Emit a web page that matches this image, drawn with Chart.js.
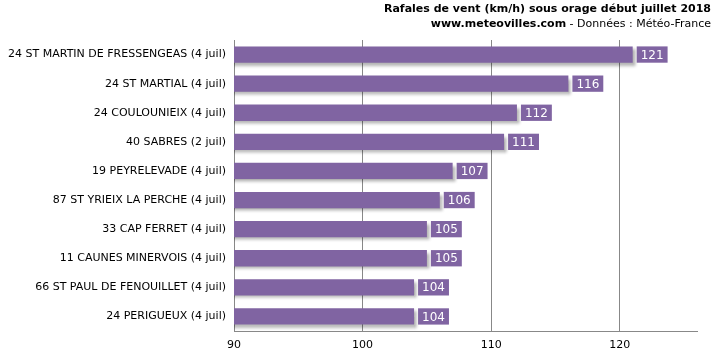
<!DOCTYPE html>
<html lang="fr">
<head>
  <meta charset="UTF-8" />
  <title>Rafales de vent</title>
  <script src="https://cdn.jsdelivr.net/npm/chart.js"></script>
  <style>
    body { margin: 0; padding: 0; background: #fff; }
    #wrap { position: relative; width: 715px; height: 354px; }
  </style>
</head>
<body>
  <div id="wrap"><canvas id="gusts" width="715" height="354"></canvas></div>

  <script>
    const stations = [
      '24 ST MARTIN DE FRESSENGEAS (4 juil)',
      '24 ST MARTIAL (4 juil)',
      '24 COULOUNIEIX (4 juil)',
      '40 SABRES (2 juil)',
      '19 PEYRELEVADE (4 juil)',
      '87 ST YRIEIX LA PERCHE (4 juil)',
      '33 CAP FERRET (4 juil)',
      '11 CAUNES MINERVOIS (4 juil)',
      '66 ST PAUL DE FENOUILLET (4 juil)',
      '24 PERIGUEUX (4 juil)'
    ];
    const gusts = [121, 116, 112, 111, 107, 106, 105, 105, 104, 104];
    const xTicks = [90, 100, 110, 120];

    const FONT = 'Tahoma, "DejaVu Sans", sans-serif';
    const PURPLE = '#8064A2';

    // ombre portée sous les barres
    const shadowPlugin = {
      id: 'barShadow',
      beforeDatasetsDraw(chart) {
        const ctx = chart.ctx;
        ctx.save();
        ctx.shadowColor = 'rgba(0,0,0,0.3)';
        ctx.shadowBlur = 3;
        ctx.shadowOffsetX = 3;
        ctx.shadowOffsetY = 3;
      },
      afterDatasetsDraw(chart) {
        chart.ctx.restore();
      }
    };

    // étiquettes de valeur au bout des barres
    const valueLabels = {
      id: 'valueLabels',
      afterDatasetsDraw(chart) {
        const ctx = chart.ctx;
        const meta = chart.getDatasetMeta(0);
        ctx.save();
        ctx.font = '12px ' + FONT;
        ctx.textBaseline = 'middle';
        ctx.textAlign = 'center';
        meta.data.forEach((bar, i) => {
          const txt = String(gusts[i]);
          const w = ctx.measureText(txt).width + 8;
          const h = bar.height;
          const x0 = bar.x + 4;
          ctx.fillStyle = PURPLE;
          ctx.fillRect(x0, bar.y - h / 2, w, h);
          ctx.fillStyle = '#fff';
          ctx.fillText(txt, x0 + w / 2, bar.y + 1);
        });
        ctx.restore();
      }
    };

    // titre en haut à droite
    const titlePlugin = {
      id: 'titleText',
      afterDraw(chart) {
        const ctx = chart.ctx;
        const right = 711;
        ctx.save();
        ctx.fillStyle = '#000';
        ctx.textAlign = 'right';
        ctx.textBaseline = 'middle';
        ctx.font = 'bold 11px ' + FONT;
        ctx.fillText('Rafales de vent (km/h) sous orage début juillet 2018', right, 9);
        ctx.font = '11px ' + FONT;
        const rest = ' - Données : Météo-France';
        ctx.fillText(rest, right, 24);
        const rw = ctx.measureText(rest).width;
        ctx.font = 'bold 11px ' + FONT;
        ctx.fillText('www.meteovilles.com', right - rw, 24);
        ctx.restore();
      }
    };

    new Chart(document.getElementById('gusts'), {
      type: 'bar',
      data: {
        labels: stations,
        datasets: [{
          data: gusts,
          backgroundColor: PURPLE,
          borderWidth: 0,
          categoryPercentage: 1,
          barPercentage: 0.56
        }]
      },
      options: {
        indexAxis: 'y',
        responsive: false,
        animation: false,
        layout: { padding: { top: 40, right: 18, left: 0, bottom: 0 } },
        plugins: {
          legend: { display: false },
          tooltip: { enabled: false }
        },
        scales: {
          x: {
            min: 90,
            max: 126,
            afterBuildTicks(scale) {
              scale.ticks = xTicks.map(v => ({ value: v }));
            },
            afterFit(scale) { scale.height = 23; },
            grid: { color: '#888', drawTicks: false, lineWidth: 1 },
            border: { color: '#888' },
            ticks: { color: '#000', font: { size: 11, family: FONT }, padding: 8 }
          },
          y: {
            afterFit(scale) { scale.width = 234; },
            grid: { display: false, drawTicks: false },
            border: { color: '#888' },
            ticks: { color: '#000', font: { size: 11, family: FONT }, padding: 8 }
          }
        }
      },
      plugins: [shadowPlugin, valueLabels, titlePlugin]
    });
  </script>
</body>
</html>
